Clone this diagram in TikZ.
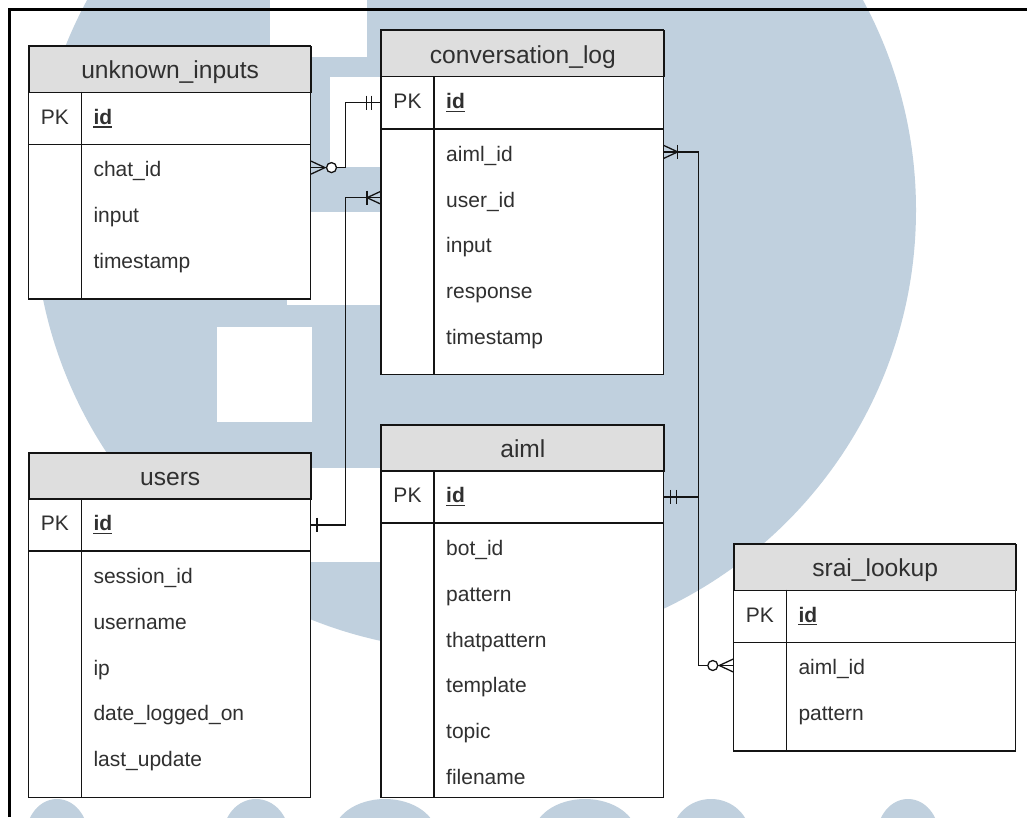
\documentclass[tikz,border=0pt]{standalone}
\usepackage{fontspec}
\setmainfont{Liberation Sans}

\definecolor{wm}{RGB}{192,208,222}
\definecolor{hdrfill}{RGB}{222,222,222}
\definecolor{txt}{RGB}{48,48,48}
\definecolor{frame}{RGB}{20,20,20}

\newcommand\hdrfont{\fontsize{24.6}{28}\selectfont}
\newcommand\bodyfont{\fontsize{21}{25}\selectfont}

\tikzset{
  tablebox/.style={fill=white, draw=none},
  tableline/.style={draw=frame, line width=1.45pt},
  hdrbox/.style={draw=frame, fill=hdrfill, line width=1.45pt, anchor=north west,
    inner sep=0pt, minimum width=282.3pt, minimum height=46pt, font=\hdrfont,
    text=txt, text height=24pt, text depth=5pt},
  pkbox/.style={anchor=north west, inner sep=0pt, minimum width=282.3pt, minimum height=52.8pt},
  fieldbox/.style={anchor=north west, inner sep=0pt, minimum width=282.3pt, minimum height=45.8pt},
  pktext/.style={anchor=base, inner sep=0pt, font=\bodyfont, text=txt},
  keytext/.style={anchor=base west, inner sep=0pt, font=\bodyfont\bfseries, text=txt},
  keyline/.style={draw=txt, line width=1.2pt},
  fieldtext/.style={anchor=base west, inner sep=0pt, font=\bodyfont, text=txt},
  link/.style={draw=frame, line width=1.3pt},
  pics/crow/.style={code={\draw[link] (0,-6.5) -- (14,0) -- (0,6.5);}},
  pics/onebar/.style={code={\draw[link] (#1,-7) -- (#1,7);}},
  pics/ring/.style={code={\filldraw[link, fill=white] (20.5,0) circle[radius=5];}},
}

% #1 name, #2 left, #3 top, #4 bottom, #5 title, #6 attribute list
\newcommand\ertable[6]{%
  \filldraw[tablebox] (#2,#3) rectangle ({#2+282.3},#4);
  \node[hdrbox] (#1) at (#2,#3) {#5};
  \node[pkbox] (#1-pk) at (#2,{#3+46}) {};
  \draw[tableline] (#2,{#3+98.8}) -- ({#2+282.3},{#3+98.8});
  \draw[tableline] ({#2+53},{#3+46}) -- ({#2+53},#4);
  \node[pktext] (#1-pkt) at ({#2+26.5},{#3+46+26.4+6}) {PK};
  \node[keytext] (#1-key) at ({#2+65},{#3+46+26.4+6}) {id};
  \draw[keyline] ([yshift=-2.8pt]#1-key.base west) -- ([yshift=-2.8pt]#1-key.base east);
  \foreach \fld [count=\i] in {#6} {
    \node[fieldbox] (#1-\i) at (#2,{#3+98.8+(\i-1)*45.8}) {};
    \node[fieldtext] (#1-\i-t) at ({#2+65},{#3+98.8+(\i-0.5)*45.8+9.5}) {\fld};
  }
  \draw[tableline] (#2,#3) rectangle ({#2+282.3},#4);
}

\begin{document}
\begin{tikzpicture}[x=1pt, y=-1pt]
\useasboundingbox (0,0) rectangle (1027,817);
\fill[white] (0,0) rectangle (1027,817);

% background emblem
\begin{scope}
  \clip (0,0) rectangle (1027,817);
  \fill[wm] (475,210) circle[radius=441];
  \fill[white] (270,-2) rectangle (367,57);
  \fill[white] (330,77) rectangle (381,167);
  \fill[white] (287,212) rectangle (381,305);
  \fill[white] (217,327) rectangle (312,422);
  \fill[white] (300,468) rectangle (381,562);
  \foreach \cx/\rx in {57/31, 256/33, 385/52, 585/52, 711/39, 908/31}
    \fill[wm] (\cx,836) ellipse[x radius=\rx, y radius=37];
\end{scope}

% page frame
\draw[line width=2.7pt] (9.5,817) -- (9.5,9.5) -- (1027,9.5);

% tables
\ertable{unk}{28.3}{45.7}{299}{unknown\_inputs}{chat\_id, input, timestamp}
\ertable{conv}{381}{30}{374.3}{conversation\_log}{aiml\_id, user\_id, input, response, timestamp}
\ertable{users}{28.3}{452.3}{797.7}{users}{session\_id, username, ip, date\_logged\_on, last\_update}
\ertable{aiml}{381}{424.3}{797.7}{aiml}{bot\_id, pattern, thatpattern, template, topic, filename}
\ertable{srai}{733.3}{543.6}{751}{srai\_lookup}{aiml\_id, pattern}

% relationships
\draw[link] (unk-1.east) -- ++(34.6,0) |- (conv-pk.west);
\draw[link] (users-pk.east) -- ++(34.6,0) |- (conv-2.west);
\draw[link] (aiml-pk.east) -- ++(35,0) |- (conv-1.east);
\draw[link] (aiml-pk.east) -- ++(35,0) |- (srai-1.west);

% cardinality marks
\pic at (unk-1.east) {crow};
\pic at (unk-1.east) {ring};
\pic[xscale=-1] at (conv-pk.west) {onebar=9.5};
\pic[xscale=-1] at (conv-pk.west) {onebar=14.5};
\pic at (users-pk.east) {onebar=6};
\pic[xscale=-1] at (conv-2.west) {crow};
\pic[xscale=-1] at (conv-2.west) {onebar=14};
\pic at (conv-1.east) {crow};
\pic at (conv-1.east) {onebar=14};
\pic at (aiml-pk.east) {onebar=7};
\pic at (aiml-pk.east) {onebar=13};
\pic[xscale=-1] at (srai-1.west) {crow};
\pic[xscale=-1] at (srai-1.west) {ring};
\end{tikzpicture}
\end{document}
